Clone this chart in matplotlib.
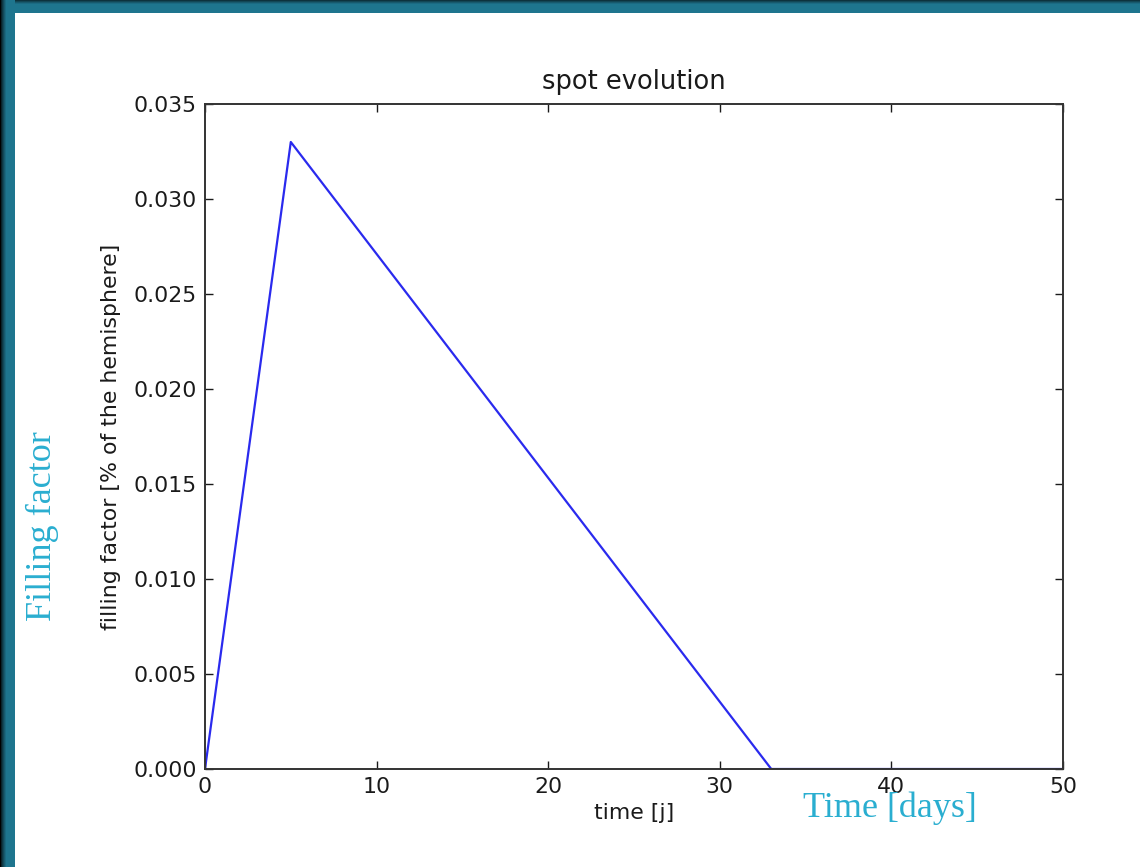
import numpy as np
import matplotlib

matplotlib.use("Agg")
import matplotlib.pyplot as plt

# spot filling factor over time: linear growth, then linear decay
time_days = [0, 5, 33, 50]
filling = [0.0, 0.033, 0.0, 0.0]

x_ticks = [0, 10, 20, 30, 40, 50]
y_ticks = [0.000, 0.005, 0.010, 0.015, 0.020, 0.025, 0.030, 0.035]

W, H = 1140, 867
teal = np.array([0.12, 0.46, 0.56])
cyan = "#2aaed0"

fig = plt.figure(figsize=(W / 100, H / 100), dpi=100)
fig.patch.set_facecolor("white")

# slide frame: teal strips along the top and the left edge, shaded towards the outside
bg = fig.add_axes([0, 0, 1, 1], zorder=-1)
bg.set_xlim(0, W)
bg.set_ylim(H, 0)
bg.axis("off")
shade_l = np.clip(np.linspace(0.0, 2.4, 15), 0, 1) ** 0.7
bg.imshow(shade_l[None, :, None] * teal, extent=(0, 15, H, 0),
          aspect="auto", interpolation="nearest")
shade_t = np.clip(np.linspace(0.3, 2.6, 13), 0, 1) ** 0.7
bg.imshow(shade_t[:, None, None] * teal, extent=(15, W, 13, 0),
          aspect="auto", interpolation="nearest")

ax = fig.add_axes([205 / W, 1 - 769 / H, (1063 - 205) / W, (769 - 104) / H])
ax.plot(time_days, filling, color="#2a2aee", linewidth=1.6)
ax.set_xlim(0, 50)
ax.set_ylim(0, 0.035)
ax.set_xticks(x_ticks)
ax.set_yticks(y_ticks)
ax.set_yticklabels([f"{v:.3f}" for v in y_ticks])
ax.tick_params(direction="in", length=6, width=1, labelsize=15.8,
               top=True, right=True, pad=6, colors="#1a1a1a")
for sp in ax.spines.values():
    sp.set_linewidth(1.4)
    sp.set_color("#333333")

ax.set_title("spot evolution", fontsize=18.5, pad=11, color="#1a1a1a")
ax.set_xlabel("time [j]", fontsize=15.8, labelpad=4, color="#1a1a1a")
ax.set_ylabel("filling factor [% of the hemisphere]", fontsize=15.8,
              labelpad=9, color="#1a1a1a")

fig.text(803 / W, 1 - 808 / H, "Time [days]", family="Liberation Serif",
         fontsize=26, color=cyan, ha="left", va="center")
fig.text(42 / W, 1 - 526 / H, "Filling factor", family="Liberation Serif",
         fontsize=26, color=cyan, rotation=90, ha="center", va="center")

fig.savefig("out.png", dpi=100)
